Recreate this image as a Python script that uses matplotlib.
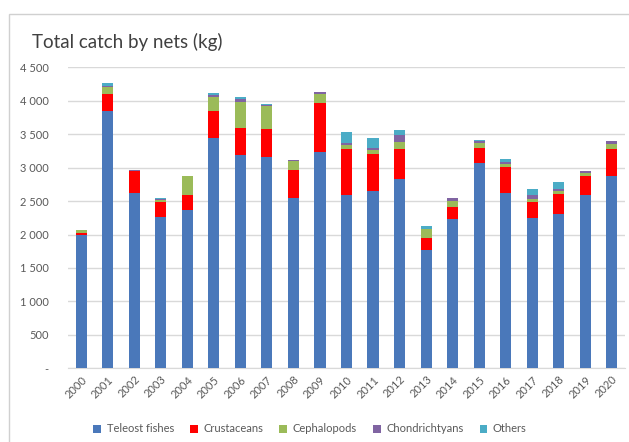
import matplotlib
matplotlib.use("Agg")
import matplotlib.pyplot as plt
from matplotlib.patches import Rectangle
import numpy as np

years = [str(y) for y in range(2000, 2021)]

teleost = [1990, 3840, 2620, 2260, 2370, 3440, 3190, 3155, 2550, 3240, 2590,
           2650, 2830, 1770, 2230, 3065, 2615, 2245, 2300, 2590, 2880]
crustaceans = [40, 260, 330, 220, 220, 400, 400, 420, 415, 730, 690,
               550, 445, 185, 175, 225, 390, 235, 300, 290, 405]
cephalopods = [35, 110, 5, 40, 285, 215, 390, 340, 140, 125, 60,
               65, 115, 125, 100, 75, 50, 50, 55, 40, 70]
chondrichtyans = [5, 10, 5, 5, 5, 35, 50, 25, 10, 35, 35,
                  30, 100, 10, 40, 35, 30, 65, 25, 25, 45]
others = [5, 40, 0, 15, 0, 25, 20, 5, 0, 0, 160,
          145, 75, 30, 5, 15, 45, 85, 105, 5, 0]

series = [
    ("Teleost fishes", teleost, "#4A78BA"),
    ("Crustaceans", crustaceans, "#FF0000"),
    ("Cephalopods", cephalopods, "#9BBB59"),
    ("Chondrichtyans", chondrichtyans, "#8064A2"),
    ("Others", others, "#4BACC6"),
]

yticks = [0, 500, 1000, 1500, 2000, 2500, 3000, 3500, 4000, 4500]
ytick_labels = ["-", "500", "1 000", "1 500", "2 000", "2 500",
                "3 000", "3 500", "4 000", "4 500"]

plt.rcParams["font.family"] = ["Lato", "DejaVu Sans"]

W, H = 629, 442
fig = plt.figure(figsize=(W / 100, H / 100), dpi=100)
fig.patch.set_facecolor("white")

# chart frame (top and left edges visible)
fig.patches.append(Rectangle((9 / W, -0.1), 1.2, 1 - 14 / H + 0.1,
                             transform=fig.transFigure, fill=False,
                             edgecolor="#d0d0d0", linewidth=1.0))

ax = fig.add_axes([68 / W, 1 - 368.3 / H, (625 - 68) / W, (368.3 - 67.3) / H])

x = np.arange(len(years))
bottom = np.zeros(len(years))
handles = []
for name, vals, color in series:
    v = np.array(vals, dtype=float)
    b = ax.bar(x, v, width=0.42, bottom=bottom, color=color, label=name,
               linewidth=0, zorder=3)
    handles.append(b)
    bottom += v

ax.set_xlim(-0.5, len(years) - 0.5)
ax.set_ylim(0, 4500)
ax.set_yticks(yticks)
ax.set_yticklabels(ytick_labels)
ax.set_xticks(x)
ax.set_xticklabels(years, rotation=45, ha="right", rotation_mode="anchor")

ax.grid(axis="y", color="#d9d9d9", linewidth=1.0, zorder=0)
ax.set_axisbelow(True)
for s in ["top", "right", "left"]:
    ax.spines[s].set_visible(False)
ax.spines["bottom"].set_color("#d9d9d9")
ax.tick_params(axis="both", length=0, colors="#595959", labelsize=8)
ax.tick_params(axis="y", pad=14)
ax.tick_params(axis="x", pad=4)

fig.text(32 / W, 1 - 42 / H, "Total catch by nets (kg)", fontsize=13.5,
         color="#404040", va="center", ha="left")

fig.legend(handles=handles, loc="center", bbox_to_anchor=(310 / W, 1 - 429 / H),
           ncol=5, frameon=False, fontsize=8, handlelength=0.7,
           handleheight=0.7, handletextpad=0.5, columnspacing=1.45,
           labelcolor="#595959")

fig.savefig("out.png", dpi=100, facecolor="white")
